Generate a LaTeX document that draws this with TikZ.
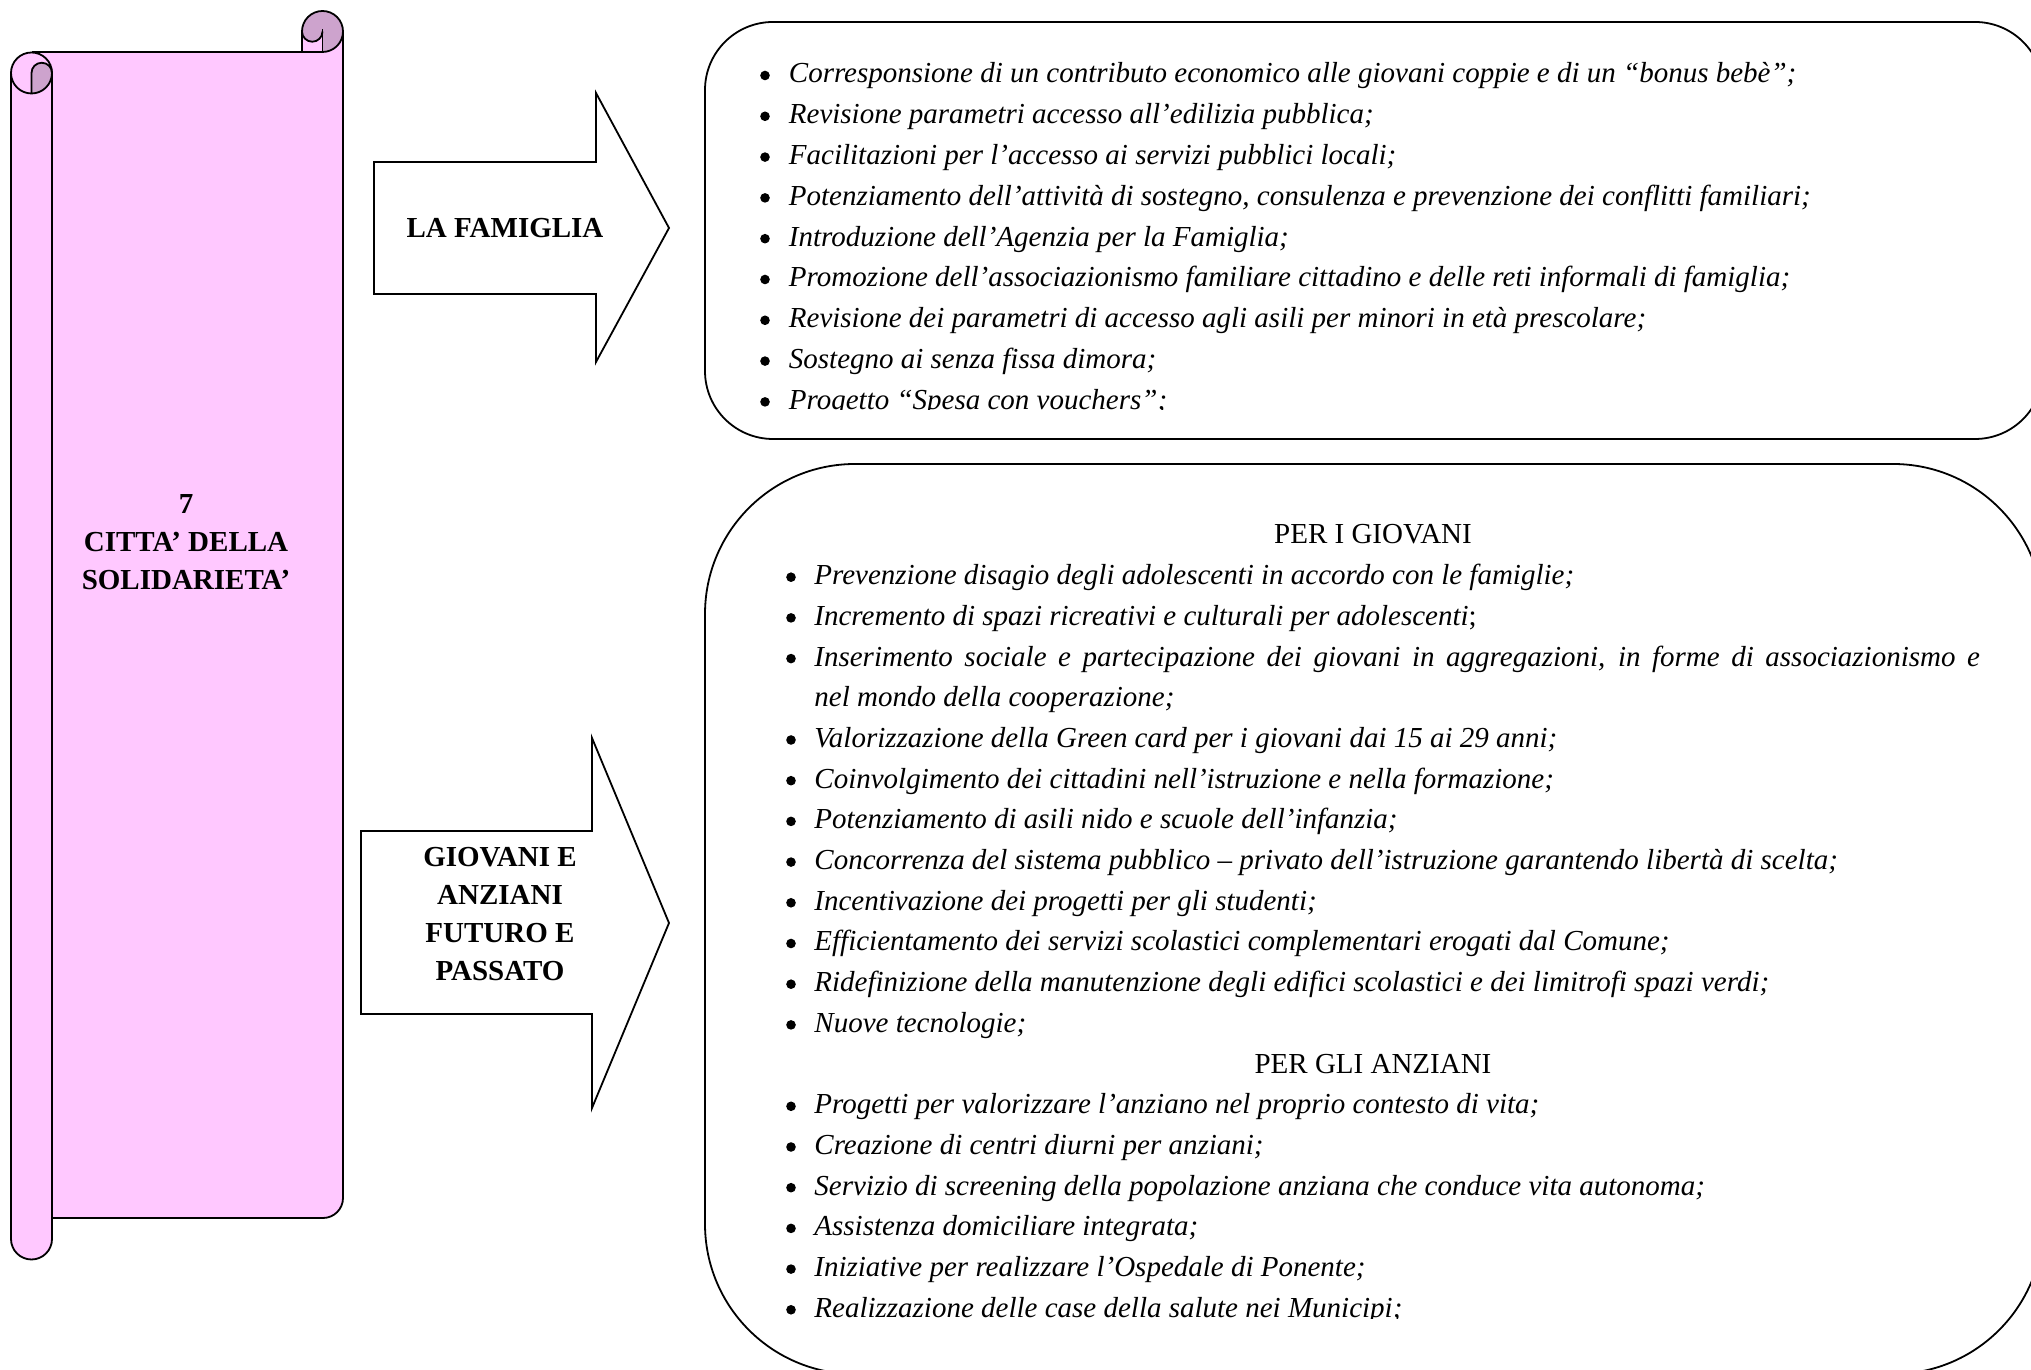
\documentclass[tikz,border=0pt]{standalone}
\usepackage{fontspec}
\setmainfont{Liberation Serif}
\usepackage{tikz}
\definecolor{rotolo}{RGB}{255,200,255}
\definecolor{ricciolo}{RGB}{205,163,205}
\tikzset{
  voce/.style={anchor=base west, inner sep=0, font=\fontsize{29}{38}\selectfont\itshape},
  titolo/.style={inner sep=0, align=center, font=\fontsize{29}{38.3}\selectfont\bfseries},
  sezione/.style={anchor=base, inner sep=0, font=\fontsize{29}{38}\selectfont},
  pallino/.style={fill=black},
}

\begin{document}
\begin{tikzpicture}[x=1pt,y=1pt,line width=1.8pt]
 \useasboundingbox (0,0) rectangle (2031,1370);
% rotolo
 \fill[rotolo] (11,1297) -- (11,131) arc[start angle=180,end angle=360,radius=20.5] -- (52,1297) arc[start angle=0,end angle=180,radius=20.5] -- cycle;
 \fill[rotolo] (52,152) -- (323,152) arc[start angle=-90,end angle=0,radius=20] -- (343,1338.5) -- (302,1338.5) -- (302,1318) -- (31.5,1318) -- (31.5,1297) -- (52,1297) -- cycle;
 \fill[ricciolo] (302,1338.5) arc[start angle=180,end angle=-90,radius=20.5] -- (322.5,1338.5) arc[start angle=0,end angle=-180,radius=10.25] -- cycle;
 \fill[ricciolo] (31.5,1297) arc[start angle=180,end angle=0,radius=10.25] arc[start angle=0,end angle=-90,radius=20.5] -- cycle;
 \draw (31.5,1297) circle[radius=20.5];
 \draw (31.5,1276.5) -- (31.5,1297) arc[start angle=180,end angle=0,radius=10.25];
 \draw (11,1297) -- (11,131) arc[start angle=180,end angle=360,radius=20.5] -- (52,1297);
 \draw (31.5,1318) -- (322.5,1318);
 \draw (52,152) -- (323,152) arc[start angle=-90,end angle=0,radius=20] -- (343,1338.5);
 \draw (302,1318) -- (302,1338.5) arc[start angle=180,end angle=-90,radius=20.5];
 \draw (322.5,1318) -- (322.5,1341);
 \draw (302,1338.5) arc[start angle=180,end angle=360,radius=10.25];
 \node[titolo] (citta) at (186,828) {7\\CITTA’ DELLA\\SOLIDARIETA’};
% frecce
 \draw[fill=white] (374,1208) -- (596,1208) -- (596,1277) -- (669,1142) -- (596,1008) -- (596,1076) -- (374,1076) -- cycle;
 \node[titolo] (famiglia) at (505,1142) {LA FAMIGLIA};
 \draw[fill=white] (361,539) -- (592,539) -- (592,632) -- (669,447) -- (592,262) -- (592,356) -- (361,356) -- cycle;
 \node[titolo] (generazioni) at (500,456) {GIOVANI E\\ANZIANI\\FUTURO E\\PASSATO};
% riquadri
 \draw[rounded corners=68] (705,931) rectangle (2043,1348);
 \draw[rounded corners=150] (705,-4) rectangle (2043,906);
 \begin{scope}
  \clip (705,960) rectangle (2031,1348);
  \foreach \txt [count=\k from 0] in {Corresponsione di un contributo economico alle giovani coppie e di un “bonus bebè”;,
    Revisione parametri accesso all’edilizia pubblica;,
    Facilitazioni per l’accesso ai servizi pubblici locali;,
    {Potenziamento dell’attività di sostegno, consulenza e prevenzione dei conflitti familiari;},
    Introduzione dell’Agenzia per la Famiglia;,
    Promozione dell’associazionismo familiare cittadino e delle reti informali di famiglia;,
    Revisione dei parametri di accesso agli asili per minori in età prescolare;,
    Sostegno ai senza fissa dimora;,
    Progetto “Spesa con vouchers”;}
   {\fill[pallino] (765,{1287-40.8*\k+7.5}) circle[radius=4.8];
    \node[voce] (fam\k) at (788,{1287-40.8*\k}) {\txt};}
 \end{scope}
 \begin{scope}
  \clip (705,51.5) rectangle (2031,906);
  \node[sezione] (giovani) at (1373,826) {PER I GIOVANI};
  \foreach \k/\txt in {1/{Prevenzione disagio degli adolescenti in accordo con le famiglie;},
    2/{Incremento di spazi ricreativi e culturali per adolescenti{\upshape;}},
    3/{\makebox[1165.5pt][s]{Inserimento sociale e partecipazione dei giovani in aggregazioni, in forme di associazionismo e}},
    5/{Valorizzazione della Green card per i giovani dai 15 ai 29 anni;},
    6/{Coinvolgimento dei cittadini nell’istruzione e nella formazione;},
    7/{Potenziamento di asili nido e scuole dell’infanzia;},
    8/{Concorrenza del sistema pubblico – privato dell’istruzione garantendo libertà di scelta;},
    9/{Incentivazione dei progetti per gli studenti;},
    10/{Efficientamento dei servizi scolastici complementari erogati dal Comune;},
    11/{Ridefinizione della manutenzione degli edifici scolastici e dei limitrofi spazi verdi;},
    12/{Nuove tecnologie;}}
   {\fill[pallino] (791,{826-40.7*\k+7.5}) circle[radius=4.8];
    \node[voce] (gio\k) at (813.5,{826-40.7*\k}) {\txt};}
  \node[voce] (gio4) at (813.5,{826-40.7*4}) {nel mondo della cooperazione;};
  \node[sezione] (anziani) at (1373,{826-40.7*13}) {PER GLI ANZIANI};
  \foreach \k/\txt in {14/{Progetti per valorizzare l’anziano nel proprio contesto di vita;},
    15/{Creazione di centri diurni per anziani;},
    16/{Servizio di screening della popolazione anziana che conduce vita autonoma;},
    17/{Assistenza domiciliare integrata;},
    18/{Iniziative per realizzare l’Ospedale di Ponente;},
    19/{Realizzazione delle case della salute nei Municipi;}}
   {\fill[pallino] (791,{826-40.7*\k+7.5}) circle[radius=4.8];
    \node[voce] (anz\k) at (813.5,{826-40.7*\k}) {\txt};}
 \end{scope}
\end{tikzpicture}
\end{document}
